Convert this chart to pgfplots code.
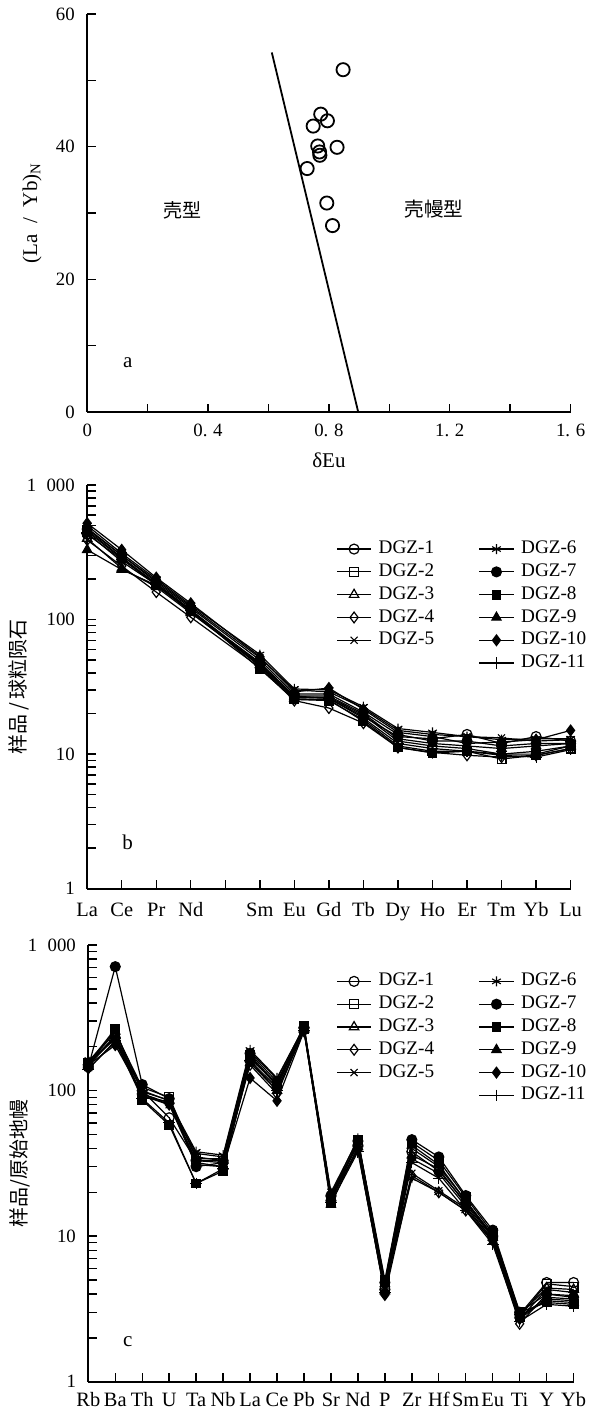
\documentclass[border=0pt]{standalone}
\usepackage{fontspec}
\setmainfont{Liberation Serif}
\newfontfamily\cjk{Noto Sans CJK SC}
\usepackage{pgfplots}
\usepackage{pgfplotstable}
\pgfplotsset{compat=1.18}

% chondrite-normalised REE (b)
\pgfplotstableread{
x   s1   s2   s3   s4   s5   s6   s7   s8   s9   s10  s11
0   430  450  400  390  480  500  470  460  330  520  440
1   280  285  240  250  300  310  300  290  235  330  270
2   185  180  175  160  195  200  190  185  180  205  182
3   118  115  112  104  125  128  122  118  115  132  116
5   47   45   46   44   52   55   50   43   48   53   46
6   27   25.5 26   25   30   30.5 28   25.5 27   29   26.5
7   26   25   26.5 22   29   30   28   25.5 27   31   26
8   19   18   19.5 17   22   22.5 20.5 17.5 20   21.5 18.5
9   13.5 11.5 12.5 11.2 15   15.5 14   11.2 13   14.5 12
10  13   10.5 11.5 10.3 14   14.5 12.5 10.2 12   13.5 11
11  14   10.5 11   9.8  13.5 13.5 12.5 10.5 11.5 12   10.5
12  12   9.2  10   9.5  13.2 12.8 11.5 10   11   12.3 9.8
13  13.5 9.8  10.5 9.8  12.5 13   12   10   11.5 12.8 9.5
14  12.5 11   11.5 11   12.8 13   12   11.5 12   15   10.8
}\reetable

% primitive-mantle-normalised trace elements (c)
\pgfplotstableread{
x   s1   s2   s3   s4   s5   s6   s7   s8   s9   s10  s11
0   150  155  148  142  160  152  145  155  158  150  140
1   230  250  240  215  225  235  710  265  255  205  220
2   100  105  98   95   92   90   110  86   100  95   88
3   65   90   86   82   80   84   88   58   85   80   60
4   33   34   35   33   37   38   30   23   32   31   23
5   33   34   33   32   35   36   32   28   30   30   29
6   160  175  165  150  185  190  180  170  155  122  160
7   105  110  112  95   120  122  115  108  100  85   100
8   270  265  268  260  275  272  270  280  262  255  258
9   19   18   19.5 18.5 20   19   17.5 17   16.5 18   17
10  42   44   43   40   46   47   45   46   41   39   38
11  4.3  4.5  4.2  3.95 4.6  4.4  4.8  5.0  4.7  4.0  4.1
12  38   40   36   26   27   25   46   44   42   34   32
13  28   30   29   20   20.5 20   35   33   31   27   25
14  17   17.5 16.5 15   15.5 15   19   18.5 17.5 16   15
15  10   10   9.8  9.3  9.5  9.2  11   10.5 10.2 9.5  8.8
16  2.9  2.8  2.9  2.5  2.7  2.75 3.0  3.0  2.85 2.7  2.6
17  4.8  4.7  4.4  4.0  4.3  3.8  4.0  3.5  3.6  3.7  3.4
18  4.8  4.5  4.3  3.9  4.1  3.7  3.8  3.4  3.5  3.6  3.3
}\spidertable

\tikzset{
  ser/.style={black, line width=0.6pt, mark size=2.5pt, mark options={solid, line width=0.55pt}},
  s1/.style={ser, mark=o, mark options={fill=white}},
  s2/.style={ser, mark=square, mark options={fill=white}, mark size=2.2pt},
  s3/.style={ser, mark=triangle, mark options={fill=white}, mark size=2.7pt},
  s4/.style={ser, mark=diamond, mark options={fill=white}, mark size=2.7pt},
  s5/.style={ser, mark=x},
  s6/.style={ser, mark=asterisk},
  s7/.style={ser, mark=*},
  s8/.style={ser, mark=square*, mark size=2.2pt},
  s9/.style={ser, mark=triangle*, mark size=2.7pt},
  s10/.style={ser, mark=diamond*, mark size=2.7pt},
  s11/.style={ser, mark=+, mark size=2.9pt},
}

\begin{document}
\begin{tikzpicture}
\useasboundingbox (0,0) rectangle (294.5pt,704pt);

% ---------- a ----------
\begin{axis}[
  scale only axis, anchor=south west,
  at={(43.6pt,498pt)}, width=241.7pt, height=199pt,
  axis x line=bottom, axis y line=left,
  axis line style={-, line width=0.9pt},
  tick align=inside, major tick length=4.2pt, minor tick length=4.2pt,
  tick style={black, line width=0.7pt},
  xmin=0, xmax=1.6, ymin=0, ymax=60,
  xtick={0,0.4,0.8,1.2,1.6},
  xticklabels={0,0.\hspace{0.3em}4,0.\hspace{0.3em}8,1.\hspace{0.3em}2,1.\hspace{0.3em}6},
  minor xtick={0.2,0.6,1.0,1.4},
  ytick={0,20,40,60}, yticklabels={0,20,40,60}, minor ytick={10,30,50},
  tick label style={font=\fontsize{9.4}{11}\selectfont},
  x tick label style={anchor=base, inner sep=0pt, yshift=-12.35pt},
  y tick label style={anchor=east, inner sep=0pt, xshift=-6pt},
  label style={font=\fontsize{10.5}{12}\selectfont},
  xlabel={δEu}, ylabel={(La\enspace/\enspace Yb)\textsubscript{N}},
  xlabel style={at={(axis description cs:0.5,-0.1206)}, anchor=center},
  ylabel style={at={(axis description cs:-0.114,0.5)}, anchor=center},
]
\addplot[black, line width=0.9pt] coordinates {(0.611,54.2) (0.897,0)};
\addplot[only marks, mark=o, mark size=3.3pt, mark options={black, line width=0.9pt}] coordinates {
  (0.847,51.6) (0.773,44.9) (0.795,43.9) (0.748,43.1) (0.763,40.1) (0.827,39.9)
  (0.769,39.2) (0.770,38.7) (0.728,36.7) (0.793,31.5) (0.812,28.1)
};
\node[font=\fontsize{10.5}{12}\selectfont] at (axis cs:0.134,7.4) {a};
\node[font=\cjk\fontsize{9.5}{12}\selectfont] at (axis cs:0.317,30.45) {壳型};
\node[font=\cjk\fontsize{9.8}{12}\selectfont] at (axis cs:1.148,30.6) {壳幔型};
\end{axis}

% ---------- b ----------
\begin{axis}[
  scale only axis, anchor=south west,
  at={(43.6pt,259.65pt)}, width=241.7pt, height=201.85pt,
  axis x line=bottom, axis y line=left,
  axis line style={-, line width=0.9pt},
  tick align=inside, major tick length=4.2pt, minor tick length=4.2pt,
  tick style={black, line width=0.7pt},
  ymode=log, ymin=1, ymax=1000,
  ytick={1,10,100,1000}, yticklabels={1,10,100,1\hspace{0.55em}000},
  xmin=0, xmax=14, xtick={0,...,14},
  xticklabels={La,Ce,Pr,Nd,,Sm,Eu,Gd,Tb,Dy,Ho,Er,Tm,Yb,Lu},
  tick label style={font=\fontsize{9.4}{11}\selectfont},
  x tick label style={font=\fontsize{10.2}{12}\selectfont, anchor=base, inner sep=0pt, yshift=-13.85pt},
  y tick label style={anchor=east, inner sep=0pt, xshift=-6pt},
  label style={font=\fontsize{10}{12}\selectfont},
  ylabel={\cjk 样品\,/\,球粒陨石},
  ylabel style={at={(axis description cs:-0.141,0.5)}, anchor=center},
  legend cell align=left, legend columns=2,
  legend style={draw=none, fill=none, inner sep=0pt, anchor=north west,
    at={(0.5147,0.8705)}, font=\fontsize{9.6}{11}\selectfont,
    nodes={inner sep=0pt, text height=8pt, text depth=3.4pt},
    /tikz/every odd column/.append style={column sep=3.5pt},
    /tikz/every even column/.append style={column sep=22.3pt}},
]
\addplot[s1, forget plot] table[y=s1] {\reetable};
\addplot[s2, forget plot] table[y=s2] {\reetable};
\addplot[s3, forget plot] table[y=s3] {\reetable};
\addplot[s4, forget plot] table[y=s4] {\reetable};
\addplot[s5, forget plot] table[y=s5] {\reetable};
\addplot[s6, forget plot] table[y=s6] {\reetable};
\addplot[s7, forget plot] table[y=s7] {\reetable};
\addplot[s8, forget plot] table[y=s8] {\reetable};
\addplot[s9, forget plot] table[y=s9] {\reetable};
\addplot[s10, forget plot] table[y=s10] {\reetable};
\addplot[s11, forget plot] table[y=s11] {\reetable};
\addlegendimage{s1}\addlegendentry{DGZ-1}
\addlegendimage{s6}\addlegendentry{DGZ-6}
\addlegendimage{s2}\addlegendentry{DGZ-2}
\addlegendimage{s7}\addlegendentry{DGZ-7}
\addlegendimage{s3}\addlegendentry{DGZ-3}
\addlegendimage{s8}\addlegendentry{DGZ-8}
\addlegendimage{s4}\addlegendentry{DGZ-4}
\addlegendimage{s9}\addlegendentry{DGZ-9}
\addlegendimage{s5}\addlegendentry{DGZ-5}
\addlegendimage{s10}\addlegendentry{DGZ-10}
\addlegendimage{empty legend}\addlegendentry{}
\addlegendimage{s11}\addlegendentry{DGZ-11}
\node[font=\fontsize{10.5}{12}\selectfont] at (axis cs:1.17,2.23) {b};
\end{axis}

% ---------- c ----------
\begin{axis}[
  scale only axis, anchor=south west,
  at={(44.15pt,13.15pt)}, width=242.65pt, height=218.35pt,
  axis x line=bottom, axis y line=left,
  axis line style={-, line width=0.9pt},
  tick align=inside, major tick length=4.2pt, minor tick length=4.2pt,
  tick style={black, line width=0.7pt},
  ymode=log, ymin=1, ymax=1000,
  ytick={1,10,100,1000}, yticklabels={1,10,100,1\hspace{0.55em}000},
  xmin=0, xmax=18, xtick={0,...,18},
  xticklabels={Rb,Ba,Th,U,Ta,Nb,La,Ce,Pb,Sr,Nd,P,Zr,Hf,Sm,Eu,Ti,Y,Yb},
  tick label style={font=\fontsize{9.4}{11}\selectfont},
  x tick label style={font=\fontsize{10.2}{12}\selectfont, anchor=base, inner sep=0pt, yshift=-12.15pt},
  y tick label style={anchor=east, inner sep=0pt, xshift=-6pt},
  label style={font=\fontsize{10}{12}\selectfont},
  ylabel={\cjk 样品/原始地幔},
  ylabel style={at={(axis description cs:-0.1407,0.5)}, anchor=center},
  legend cell align=left, legend columns=2,
  legend style={draw=none, fill=none, inner sep=0pt, anchor=north west,
    at={(0.5104,0.9437)}, font=\fontsize{9.6}{11}\selectfont,
    nodes={inner sep=0pt, text height=8pt, text depth=3.4pt},
    /tikz/every odd column/.append style={column sep=3.5pt},
    /tikz/every even column/.append style={column sep=22.3pt}},
]
\addplot[s1, forget plot] table[y=s1] {\spidertable};
\addplot[s2, forget plot] table[y=s2] {\spidertable};
\addplot[s3, forget plot] table[y=s3] {\spidertable};
\addplot[s4, forget plot] table[y=s4] {\spidertable};
\addplot[s5, forget plot] table[y=s5] {\spidertable};
\addplot[s6, forget plot] table[y=s6] {\spidertable};
\addplot[s7, forget plot] table[y=s7] {\spidertable};
\addplot[s8, forget plot] table[y=s8] {\spidertable};
\addplot[s9, forget plot] table[y=s9] {\spidertable};
\addplot[s10, forget plot] table[y=s10] {\spidertable};
\addplot[s11, forget plot] table[y=s11] {\spidertable};
\addlegendimage{s1}\addlegendentry{DGZ-1}
\addlegendimage{s6}\addlegendentry{DGZ-6}
\addlegendimage{s2}\addlegendentry{DGZ-2}
\addlegendimage{s7}\addlegendentry{DGZ-7}
\addlegendimage{s3}\addlegendentry{DGZ-3}
\addlegendimage{s8}\addlegendentry{DGZ-8}
\addlegendimage{s4}\addlegendentry{DGZ-4}
\addlegendimage{s9}\addlegendentry{DGZ-9}
\addlegendimage{s5}\addlegendentry{DGZ-5}
\addlegendimage{s10}\addlegendentry{DGZ-10}
\addlegendimage{empty legend}\addlegendentry{}
\addlegendimage{s11}\addlegendentry{DGZ-11}
\node[font=\fontsize{10.5}{12}\selectfont] at (axis cs:1.46,1.88) {c};
\end{axis}
\end{tikzpicture}
\end{document}
